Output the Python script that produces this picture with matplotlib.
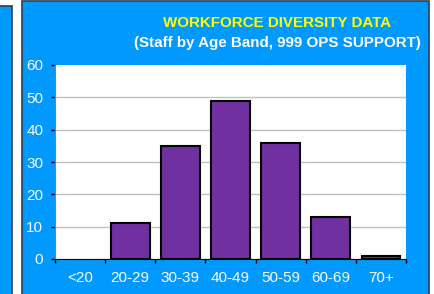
import matplotlib.pyplot as plt
from matplotlib.patches import Rectangle

# data
age_bands = ['<20', '20-29', '30-39', '40-49', '50-59', '60-69', '70+']
staff = [0, 11, 35, 49, 36, 13, 1]
y_ticks = [0, 10, 20, 30, 40, 50, 60]

blue = '#0099FF'
border = '#2E3E4E'

plt.rcParams['font.family'] = ['Liberation Sans', 'DejaVu Sans']

W, H = 434, 294
fig = plt.figure(figsize=(W / 100, H / 100), dpi=100)
fig.patch.set_facecolor('white')

def px_rect(x0, y0, x1, y1, **kw):
    # rectangle given in pixel coords (origin top-left)
    fig.patches.append(Rectangle((x0 / W, 1 - y1 / H), (x1 - x0) / W, (y1 - y0) / H,
                                 transform=fig.transFigure, figure=fig, zorder=-1, **kw))

# neighbouring chart clipped at the left edge
px_rect(-5, 5.5, 11.5, 300, facecolor=blue, edgecolor=border, lw=1.2)
# main chart panel
px_rect(21.5, 0.8, 428.5, 300, facecolor=blue, edgecolor=border, lw=1.2)

ax = fig.add_axes([55 / W, 1 - 259 / H, (406 - 55) / W, (259 - 65) / H])
ax.set_facecolor('white')

x = range(len(age_bands))
edge_w = [1.5 if v > 0 else 0 for v in staff]
ax.bar(x, staff, width=0.77, color='#7030A0', edgecolor='black', linewidth=edge_w, zorder=3)

ax.set_xlim(-0.5, len(age_bands) - 0.5)
ax.set_ylim(0, 60)
ax.set_yticks(y_ticks)
ax.yaxis.grid(True, color='#C0C0C0', lw=1, zorder=0)
ax.set_axisbelow(True)
ax.yaxis.get_gridlines()[-1].set_visible(False)

# category boundary ticks + centred labels
ax.set_xticks([i - 0.5 for i in range(len(age_bands) + 1)])
ax.set_xticklabels([])
ax.set_xticks(list(x), minor=True)
ax.set_xticklabels(age_bands, minor=True)
ax.tick_params(axis='x', which='major', direction='out', length=3, width=1, color='black')
ax.tick_params(axis='x', which='minor', length=0, pad=8.5, labelcolor='white', labelsize=11)
ax.tick_params(axis='y', direction='out', length=3, width=1, color='black', pad=5.5,
               labelcolor='white', labelsize=11)

for s in ['top', 'right']:
    ax.spines[s].set_visible(False)
ax.spines['left'].set_color('#808080')
ax.spines['bottom'].set_color('black')

fig.text(277 / W, 1 - 23 / H, 'WORKFORCE DIVERSITY DATA', color='#FFFF00',
         fontsize=10.9, fontweight='bold', ha='center', va='center')
fig.text(277 / W, 1 - 43 / H, '(Staff by Age Band, 999 OPS SUPPORT)', color='white',
         fontsize=10.9, fontweight='bold', ha='center', va='center')

fig.savefig('out.png', dpi=100)
